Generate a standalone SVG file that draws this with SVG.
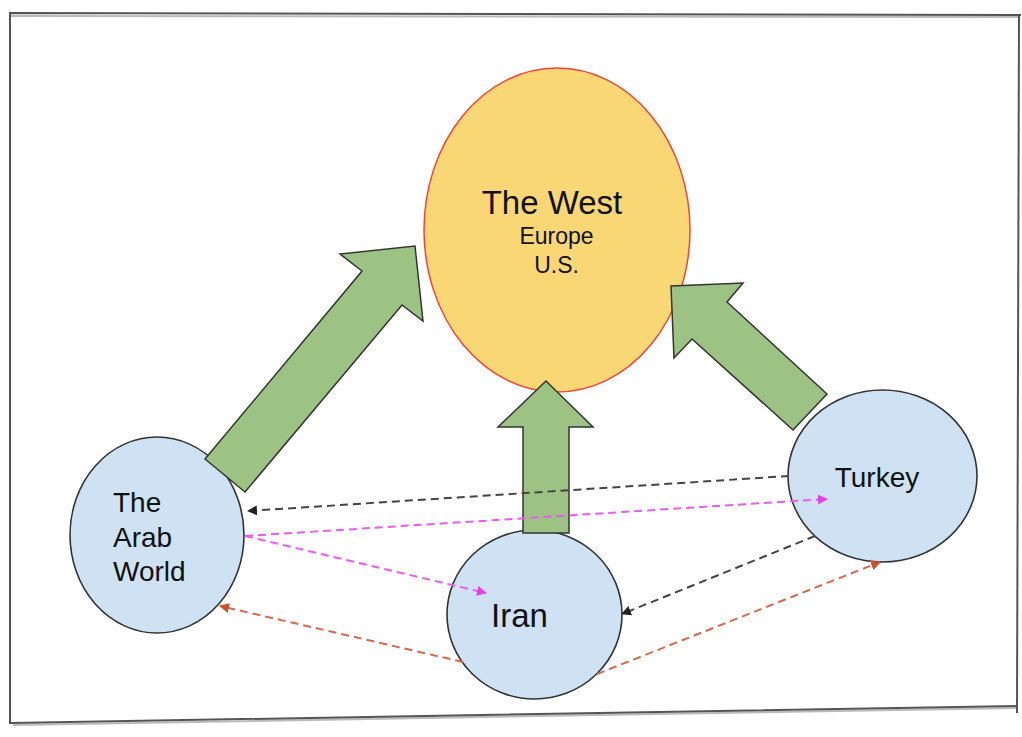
<svg xmlns="http://www.w3.org/2000/svg" width="1022" height="737" viewBox="0 0 1022 737">
<style>
  .frame{fill:none;stroke:#555;stroke-width:2;stroke-linecap:square}
  .shadow{fill:none;stroke:#bbb;stroke-width:2}
  .node{fill:#cfe2f3;stroke:#333;stroke-width:1.6}
  .west{fill:#f9d775;stroke:#f0443a;stroke-width:1.5}
  .big{fill:#9dc384;stroke:#333;stroke-width:1.5;stroke-linejoin:miter}
  .lbl{font-family:"Liberation Sans",Arial,sans-serif;fill:#111}
  .dash{fill:none;stroke-width:2;stroke-dasharray:8 5}
  .blk{stroke:#444}
  .mag{stroke:#e85cf0}
  .org{stroke:#d8684a}
</style>
<defs>
  <marker id="ahBlk" viewBox="0 0 10 10" refX="9" refY="5" markerWidth="5" markerHeight="5" orient="auto" markerUnits="strokeWidth">
    <path d="M0,0 L10,5 L0,10 z" fill="#222"/>
  </marker>
  <marker id="ahMag" viewBox="0 0 10 10" refX="9" refY="5" markerWidth="5" markerHeight="5" orient="auto" markerUnits="strokeWidth">
    <path d="M0,0 L10,5 L0,10 z" fill="#e040f0"/>
  </marker>
  <marker id="ahOrg" viewBox="0 0 10 10" refX="9" refY="5" markerWidth="5" markerHeight="5" orient="auto" markerUnits="strokeWidth">
    <path d="M0,0 L10,5 L0,10 z" fill="#d0502a"/>
  </marker>
</defs>
<rect width="1022" height="737" fill="#fff"/>
<g id="frame">
  <polyline class="shadow" points="11,16 1020,17"/>
  <polyline class="shadow" points="13,725 1017,708"/>
  <polyline class="frame" points="1020,15 10,13 10,723"/>
  <polyline class="frame" points="12,723 1017,706"/>
  <polyline class="frame" points="1019,15 1017,712"/>
</g>
<g id="west">
  <ellipse class="west" cx="557" cy="230" rx="133" ry="162"/>
  <text class="lbl" x="552" y="214" font-size="33" text-anchor="middle">The West</text>
  <text class="lbl" x="556.5" y="244" font-size="23" text-anchor="middle">Europe</text>
  <text class="lbl" x="556.5" y="273" font-size="23" text-anchor="middle">U.S.</text>
</g>
<g id="arab">
  <ellipse class="node" cx="157" cy="535" rx="87" ry="98"/>
  <text class="lbl" x="113" y="512" font-size="28">The</text>
  <text class="lbl" x="113" y="547" font-size="28">Arab</text>
  <text class="lbl" x="113" y="581" font-size="28">World</text>
</g>
<g id="iran">
  <ellipse class="node" cx="534.5" cy="614.5" rx="87.5" ry="84.5"/>
  <text class="lbl" x="519.5" y="627" font-size="33" text-anchor="middle">Iran</text>
</g>
<g id="turkey">
  <ellipse class="node" cx="882.5" cy="476" rx="94.5" ry="86"/>
  <text class="lbl" x="877" y="487" font-size="28" text-anchor="middle">Turkey</text>
</g>
<g id="big-arrows">
  <polygon id="arrow-arab-west" class="big" points="205,459 362,271 340,254 415,246 423,321 402,305 245,492"/>
  <polygon id="arrow-iran-west" class="big" points="523,533 523,427 498,427 546,381 593,427 569,427 569,533"/>
  <polygon id="arrow-turkey-west" class="big" points="827,394 727,302 743,283 671,286 674,358 692,339 793,430"/>
</g>
<g id="connectors">
  <line class="dash blk" x1="789" y1="476" x2="248" y2="511" marker-end="url(#ahBlk)"/>
  <line class="dash mag" x1="245" y1="536" x2="827" y2="499" marker-end="url(#ahMag)"/>
  <line class="dash mag" x1="245" y1="536" x2="486" y2="593" marker-end="url(#ahMag)"/>
  <line class="dash blk" x1="815" y1="536" x2="622" y2="614" marker-end="url(#ahBlk)"/>
  <line class="dash org" x1="463" y1="662" x2="220" y2="606" marker-end="url(#ahOrg)"/>
  <line class="dash org" x1="597" y1="674" x2="880" y2="562" marker-end="url(#ahOrg)"/>
</g>
</svg>
